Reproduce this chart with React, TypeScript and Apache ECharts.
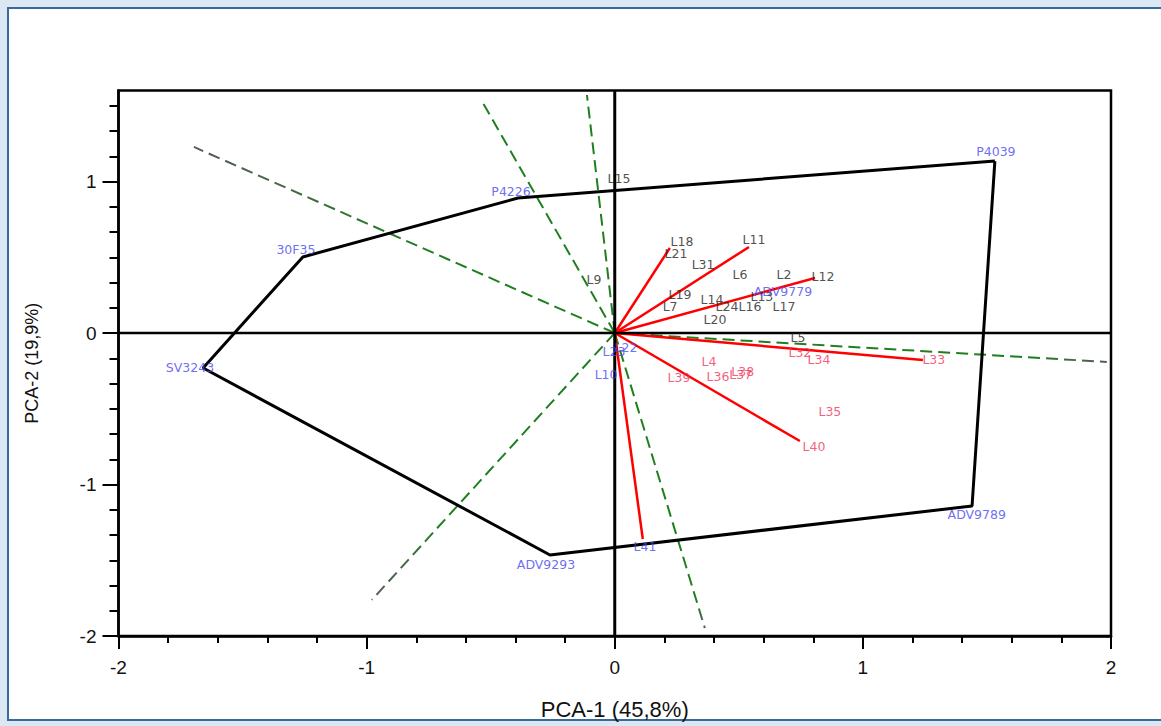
import React, { useEffect, useRef } from "react";
import * as echarts from "echarts";

// ---------- data ----------
const xTickLabels = [-2, -1, 0, 1, 2];
const yMajorTicks = [-2, -1, 0, 1];
const yMinorTicks = [
  -11 / 6, -10 / 6, -9 / 6, -8 / 6, -7 / 6,
  -5 / 6, -4 / 6, -3 / 6, -2 / 6, -1 / 6,
  1 / 6, 2 / 6, 3 / 6, 4 / 6, 5 / 6,
  7 / 6, 8 / 6, 9 / 6,
];

// convex hull of genotypes (vertices)
const hullNames = ["P4039", "P4226", "30F35", "SV3243", "ADV9293", "ADV9789"];
const hullX = [1.532, -0.39, -1.257, -1.659, -0.261, 1.44];
const hullY = [1.135, 0.891, 0.502, -0.231, -1.465, -1.142];

// genotype labels
const genoNames = ["P4039", "P4226", "30F35", "SV3243", "ADV9293", "ADV9789", "ADV9779", "L23", "L22", "L10", "L41"];
const genoX = [1.536, -0.418, -1.285, -1.712, -0.277, 1.459, 0.678, -0.003, 0.045, -0.035, 0.122];
const genoY = [1.195, 0.937, 0.548, -0.231, -1.525, -1.195, 0.277, -0.125, -0.099, -0.277, -1.406];

// black environment labels
const envNames = ["L15", "L18", "L21", "L11", "L31", "L6", "L2", "L12", "L9", "L19", "L14", "L24", "L13", "L7", "L16", "L17", "L20", "L5"];
const envX = [0.017, 0.271, 0.247, 0.561, 0.356, 0.505, 0.682, 0.839, -0.084, 0.263, 0.392, 0.452, 0.593, 0.223, 0.545, 0.682, 0.404, 0.738];
const envY = [1.017, 0.601, 0.528, 0.614, 0.449, 0.383, 0.383, 0.376, 0.35, 0.257, 0.218, 0.178, 0.238, 0.172, 0.172, 0.172, 0.086, -0.033];

// red environment labels
const redNames = ["L32", "L34", "L33", "L4", "L39", "L36", "L37", "L38", "L35", "L40"];
const redX = [0.746, 0.823, 1.286, 0.38, 0.259, 0.416, 0.508, 0.516, 0.867, 0.803];
const redY = [-0.132, -0.172, -0.178, -0.191, -0.297, -0.29, -0.277, -0.257, -0.515, -0.752];

// red vectors (from origin)
const vecX = [0.222, 0.541, 0.807, 1.242, 0.746, 0.113];
const vecY = [0.561, 0.568, 0.363, -0.178, -0.713, -1.36];

// green dashed rays (from origin)
const rayX = [-1.696, 1.983, -0.531, -0.112, -0.979, 0.363];
const rayY = [1.228, -0.191, 1.518, 1.571, -1.762, -1.947];
const rayFade = [0.45, 0.85, 1, 1, 0.7, 0.9];

// ---------- styles ----------
const LABEL_FONT = "'DejaVu Sans', 'Liberation Sans', Arial, sans-serif";
const AXIS_FONT = "'Liberation Sans Narrow', 'Liberation Sans', Arial, sans-serif";
const GREEN = "#1f7f1f";

function labelSeries(name: string, xs: number[], ys: number[], names: string[], color: string) {
  return {
    type: "scatter",
    name,
    symbolSize: 1,
    itemStyle: { color: "rgba(0,0,0,0)" },
    z: 10,
    data: names.map((n, i) => ({ name: n, value: [xs[i], ys[i]] })),
    label: {
      show: true,
      position: "inside",
      formatter: "{b}",
      color,
      fontSize: 12.5,
      fontFamily: LABEL_FONT,
    },
    silent: true,
  };
}

export default function App() {
  const ref = useRef<HTMLDivElement>(null);

  useEffect(() => {
    if (!ref.current) return;
    const chart = echarts.init(ref.current, undefined, { renderer: "svg" });

    const rays = rayX.map((x, i) => {
      const y = rayY[i];
      const ox = x < 0 ? 1 : 0;
      const oy = y > 0 ? 1 : 0;
      const stops = rayFade[i] >= 1
        ? [{ offset: 0, color: GREEN }, { offset: 1, color: GREEN }]
        : [
            { offset: 0, color: GREEN },
            { offset: rayFade[i], color: GREEN },
            { offset: 1, color: "#5a5a5a" },
          ];
      return {
        type: "line",
        symbol: "none",
        z: 2,
        silent: true,
        data: [[0, 0], [x, y]],
        lineStyle: {
          width: 2,
          type: [12, 6],
          color: new echarts.graphic.LinearGradient(ox, oy, 1 - ox, 1 - oy, stops),
        },
      };
    });

    const vectors = vecX.map((x, i) => ({
      type: "line",
      symbol: "none",
      z: 3,
      silent: true,
      data: [[0, 0], [x, vecY[i]]],
      lineStyle: { width: 2.5, color: "#ff0000" },
    }));

    const hull = {
      type: "line",
      symbol: "none",
      z: 4,
      silent: true,
      data: [...hullX.map((x, i) => [x, hullY[i]]), [hullX[0], hullY[0]]],
      lineStyle: { width: 3, color: "#000" },
    };

    const crossH = {
      type: "line",
      symbol: "none",
      z: 5,
      silent: true,
      data: [[-2, 0], [2, 0]],
      lineStyle: { width: 2.5, color: "#000" },
    };
    const crossV = {
      type: "line",
      symbol: "none",
      z: 5,
      silent: true,
      data: [[0, -2], [0, 1.6]],
      lineStyle: { width: 3, color: "#000" },
    };

    const axisLabelStyle = { color: "#111", fontSize: 19, fontFamily: AXIS_FONT };

    chart.setOption({
      animation: false,
      backgroundColor: "transparent",
      grid: {
        left: 118.5,
        right: 50,
        top: 90.6,
        bottom: 90,
        show: true,
        borderColor: "#000",
        borderWidth: 2.5,
        backgroundColor: "transparent",
      },
      xAxis: [
        {
          type: "value",
          min: -2,
          max: 2,
          interval: 1,
          position: "bottom",
          name: "PCA-1 (45,8%)",
          nameLocation: "middle",
          nameGap: 62,
          nameTextStyle: { color: "#111", fontSize: 22, fontFamily: AXIS_FONT },
          axisLine: { show: true, onZero: false, lineStyle: { color: "#000", width: 2.5 } },
          axisTick: { show: true, inside: false, length: 13, lineStyle: { color: "#000", width: 2 } },
          minorTick: { show: true, splitNumber: 5, length: 7, lineStyle: { color: "#000", width: 2 } },
          splitLine: { show: false },
          minorSplitLine: { show: false },
          axisLabel: {
            ...axisLabelStyle,
            margin: 22,
            customValues: xTickLabels,
            formatter: (v: number) => String(v),
          },
        },
      ],
      yAxis: [
        {
          type: "value",
          min: -2,
          max: 1.6,
          interval: 1,
          position: "left",
          name: "PCA-2 (19,9%)",
          nameLocation: "middle",
          nameGap: 78,
          nameTextStyle: { color: "#111", fontSize: 18, fontFamily: AXIS_FONT },
          axisLine: { show: true, onZero: false, lineStyle: { color: "#000", width: 2.5 } },
          axisTick: { show: true, inside: false, length: 16, customValues: yMajorTicks, lineStyle: { color: "#000", width: 2 } },
          splitLine: { show: false },
          axisLabel: {
            ...axisLabelStyle,
            margin: 22,
            customValues: yMajorTicks,
            formatter: (v: number) => String(v),
          },
        },
        {
          type: "value",
          min: -2,
          max: 1.6,
          interval: 1 / 6,
          position: "left",
          axisLine: { show: false, onZero: false },
          axisTick: { show: true, inside: false, length: 9, customValues: yMinorTicks, lineStyle: { color: "#000", width: 2 } },
          splitLine: { show: false },
          axisLabel: { show: false },
        },
      ],
      series: [
        ...rays,
        ...vectors,
        hull,
        crossH,
        crossV,
        labelSeries("env", envX, envY, envNames, "#222222"),
        labelSeries("red", redX, redY, redNames, "#f0365a"),
        labelSeries("geno", genoX, genoY, genoNames, "#4848f0"),
      ],
    });

    return () => chart.dispose();
  }, []);

  return (
    <div style={{ position: "fixed", left: 0, top: 0, width: 1161, height: 726, background: "#dbe7f3", overflow: "hidden" }}>
      <div
        style={{
          position: "absolute",
          left: 7,
          top: 7,
          width: 1170,
          height: 714,
          border: "2px solid #3a6a9a",
          background: "#fff",
          boxSizing: "border-box",
        }}
      />
      <div ref={ref} style={{ position: "absolute", left: 0, top: 0, width: 1161, height: 726 }} />
    </div>
  );
}
